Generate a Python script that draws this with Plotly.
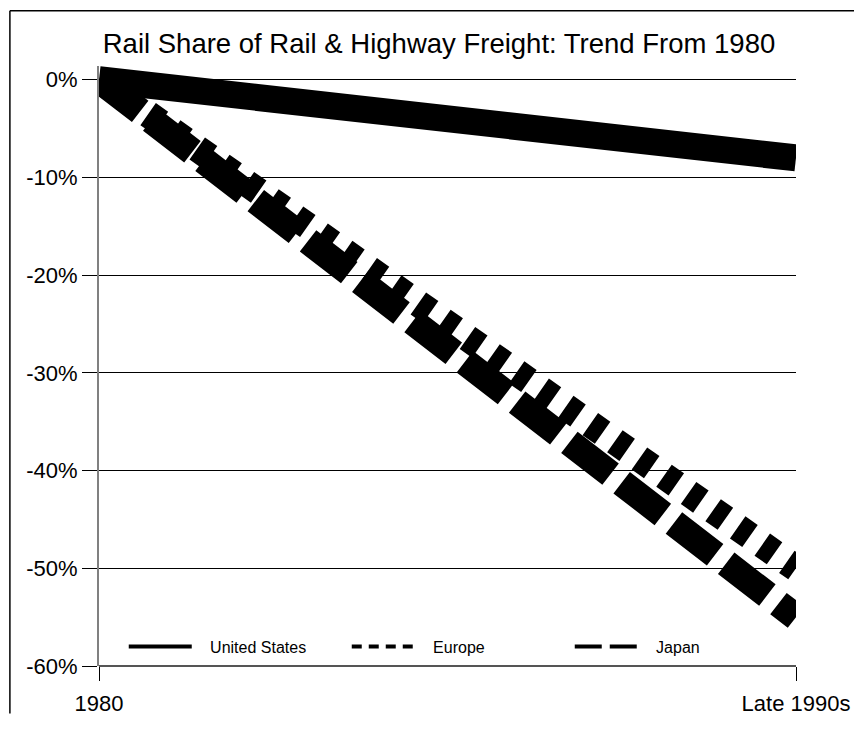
import plotly.graph_objects as go

# Data
periods = ["1980", "Late 1990s"]
us = [0, -8]
europe = [0, -50]
japan = [0, -55]
series_names = ["United States", "Europe", "Japan"]
y_tickvals = [0, -10, -20, -30, -40, -50, -60]
y_ticktext = ["0%", "-10%", "-20%", "-30%", "-40%", "-50%", "-60%"]

FONT = "Liberation Sans, Arial, sans-serif"
NB = "\u00a0\u00a0\u00a0"

# page has an 8px body margin on every side
W, H = 854, 720
L, R, T, B = 91, 59, 58, 44
PW, PH = W - L - R, H - T - B

fig = go.Figure()
series = [(us, "solid", "solid"), (europe, "15px,15px", "10px,7px"), (japan, "52px,14px", "27px,8px")]
for name, (vals, dash, ldash) in zip(series_names, series):
    fig.add_trace(go.Scatter(x=periods, y=vals, mode="lines", showlegend=False,
                             line=dict(color="black", width=27, dash=dash)))
for name, (vals, dash, ldash) in zip(series_names, series):
    fig.add_trace(go.Scatter(x=[None], y=[None], mode="lines", name=NB + name,
                             line=dict(color="black", width=4, dash=ldash)))

bx = (1 - L) / PW          # left frame edge (paper units)
by = (PH + T - 1) / PH     # top frame edge (paper units)

fig.update_layout(
    width=W, height=H,
    margin=dict(l=L, r=R, t=T, b=B),
    paper_bgcolor="white", plot_bgcolor="white",
    font=dict(family=FONT, color="black"),
    title=dict(text="Rail Share of Rail & Highway Freight: Trend From 1980",
               font=dict(size=27.5, family=FONT, color="black"),
               x=(439-8)/W, xanchor="center", y=1-(43-8)/H, yanchor="middle"),
    showlegend=True,
    legend=dict(orientation="h", x=25/PW, xanchor="left", y=20/PH, yanchor="middle",
                font=dict(size=16, family=FONT), itemwidth=63,
                entrywidth=145, entrywidthmode="pixels",
                bgcolor="rgba(0,0,0,0)", traceorder="normal"),
    xaxis=dict(type="category", range=[0, 1], showgrid=False, zeroline=False,
               showline=False, ticks="outside", ticklen=14, tickcolor="black",
               tickwidth=1, tickfont=dict(size=22, family=FONT), ticklabelstandoff=4),
    yaxis=dict(range=[-60, 1.4], tickvals=y_tickvals, ticktext=y_ticktext,
               showgrid=True, gridcolor="black", gridwidth=1, zeroline=False,
               showline=True, linecolor="#808080", linewidth=2,
               ticks="outside", ticklen=15, tickcolor="black", tickwidth=1,
               tickfont=dict(size=22, family=FONT), ticklabelstandoff=0),
    shapes=[dict(type="line", xref="paper", yref="paper", x0=bx, x1=bx, y0=-(B+5)/PH, y1=by,
                 line=dict(color="black", width=1.5), layer="below"),
            dict(type="line", xref="paper", yref="paper", x0=bx, x1=(W+5-L)/PW, y0=by, y1=by,
                 line=dict(color="black", width=1.5), layer="below"),
            dict(type="line", xref="paper", yref="paper", x0=0, x1=1, y0=0, y1=0,
                 line=dict(color="#555555", width=2), layer="below")],
)

fig.write_html("out.html")
